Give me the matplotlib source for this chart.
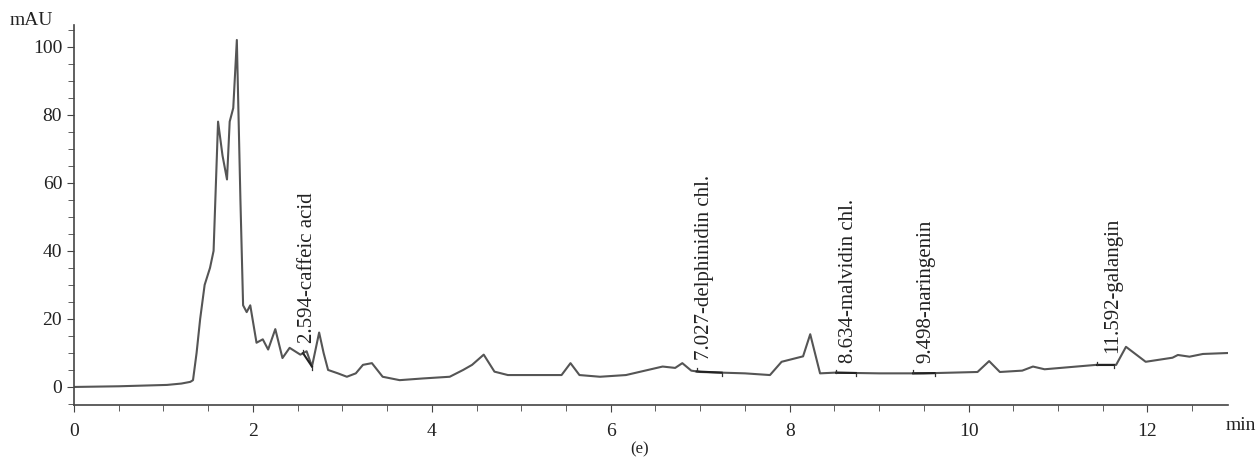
import numpy as np
import matplotlib
matplotlib.use('Agg')
import matplotlib.pyplot as plt
from matplotlib.ticker import MultipleLocator

# retention time (min) and absorbance (mAU)
time_min = [0, 0.5, 1.04, 1.2, 1.3, 1.33, 1.37, 1.41, 1.46, 1.52, 1.56,
            1.61, 1.66, 1.71, 1.74, 1.78, 1.82, 1.86, 1.89, 1.93, 1.97,
            2.04, 2.11, 2.17, 2.25, 2.33, 2.41, 2.53, 2.6, 2.66, 2.74,
            2.79, 2.84, 2.95, 3.05, 3.15, 3.23, 3.33, 3.45, 3.64, 3.9,
            4.2, 4.35, 4.45, 4.58, 4.7, 4.85, 5.2, 5.45, 5.55, 5.65,
            5.88, 6.17, 6.58, 6.72, 6.8, 6.9, 7.0, 7.5, 7.78, 7.91,
            8.15, 8.23, 8.34, 8.5, 9.0, 9.5, 10.1, 10.23, 10.35, 10.6,
            10.72, 10.85, 11.43, 11.65, 11.76, 11.98, 12.28, 12.34, 12.47,
            12.62, 12.92]
absorb_mau = [0, 0.2, 0.6, 1.0, 1.5, 2.0, 10, 20, 30, 35, 40,
              78, 68, 61, 78, 82, 102, 55, 24, 22, 24,
              13, 14, 11, 17, 8.5, 11.5, 9.5, 10.5, 6, 16,
              10, 5, 4, 3, 4, 6.5, 7, 3, 2, 2.5,
              3, 5, 6.5, 9.5, 4.5, 3.5, 3.5, 3.5, 7, 3.5,
              3, 3.5, 6, 5.6, 7, 4.8, 4.4, 4, 3.5, 7.4,
              9, 15.5, 4, 4.2, 4, 4, 4.4, 7.6, 4.4, 4.8,
              6, 5.2, 6.5, 6.5, 11.8, 7.4, 8.6, 9.4, 8.9,
              9.7, 10]

# identified peaks and their integration windows
peak_rt = [2.594, 7.027, 8.634, 9.498, 11.592]
peak_names = ['2.594-caffeic acid', '7.027-delphinidin chl.',
              '8.634-malvidin chl.', '9.498-naringenin', '11.592-galangin']
label_base = [13, 8, 7, 7, 10]
integ_start = [2.56, 6.96, 8.52, 9.38, 11.44]
integ_end = [2.66, 7.24, 8.74, 9.62, 11.63]

plt.rcParams['font.family'] = ['Liberation Serif', 'DejaVu Serif']
fig = plt.figure(figsize=(12.57, 4.61), dpi=100)
ax = fig.add_axes([0.0589, 0.1215, 0.918, 0.825])

ax.plot(time_min, absorb_mau, color='#555555', lw=1.5)

for rt, name, yb in zip(peak_rt, peak_names, label_base):
    ax.text(rt + 0.02, yb, name, rotation=90, ha='center', va='bottom',
            fontsize=15, color='#222222')

# integration baselines with small start/end marks
for t0, t1 in zip(integ_start, integ_end):
    y0 = np.interp(t0, time_min, absorb_mau)
    y1 = np.interp(t1, time_min, absorb_mau)
    ax.plot([t0, t1], [y0, y1], color='#222222', lw=1.5)
    ax.plot([t0, t0], [y0, y0 + 0.9], color='#333333', lw=0.9)
    ax.plot([t1, t1], [y1, y1 - 0.9], color='#333333', lw=0.9)

ax.set_xlim(0, 12.9)
ax.set_ylim(-5.3, 106.5)
ax.spines['top'].set_visible(False)
ax.spines['right'].set_visible(False)
for s in ['left', 'bottom']:
    ax.spines[s].set_color('#444444')
    ax.spines[s].set_linewidth(1.2)

ax.xaxis.set_major_locator(MultipleLocator(2))
ax.xaxis.set_minor_locator(MultipleLocator(0.5))
ax.yaxis.set_major_locator(MultipleLocator(20))
ax.yaxis.set_minor_locator(MultipleLocator(5))
ax.tick_params(which='both', direction='out', color='#444444', labelsize=14,
               labelcolor='#222222')
ax.tick_params(which='major', length=5)
ax.tick_params(which='minor', length=4)
ax.tick_params(axis='x', pad=8)

fig.text(0.008, 0.955, 'mAU', fontsize=14, color='#222222', va='center')
fig.text(0.999, 0.078, 'min', fontsize=14, color='#222222', ha='right', va='center')
fig.text(0.509, 0.026, '(e)', fontsize=12, color='#222222', ha='center', va='center')

fig.savefig('out.png', dpi=100)
